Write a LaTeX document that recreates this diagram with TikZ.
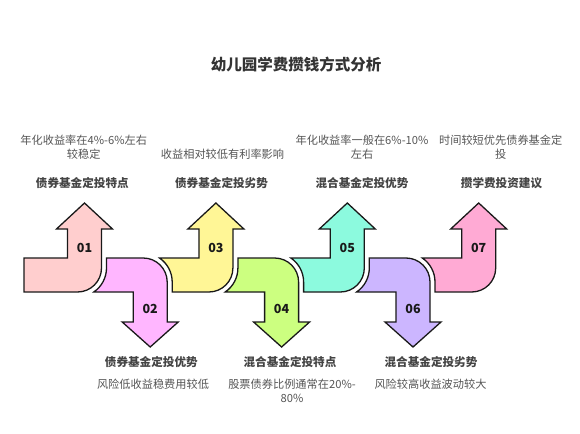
\documentclass[tikz,border=0pt]{standalone}
\usepackage{fontspec}
\newfontfamily\cjk{Noto Sans CJK SC}
\definecolor{cA}{RGB}{255,206,206}
\definecolor{cB}{RGB}{255,182,255}
\definecolor{cC}{RGB}{255,246,150}
\definecolor{cD}{RGB}{204,255,128}
\definecolor{cE}{RGB}{140,250,222}
\definecolor{cF}{RGB}{204,182,255}
\definecolor{cG}{RGB}{255,170,212}
\definecolor{titlegray}{RGB}{51,51,51}
\definecolor{headgray}{RGB}{68,68,68}
\definecolor{descgray}{RGB}{85,85,85}
\tikzset{
  arrowline/.style={draw=black!90, line width=1.3pt, line join=miter},
  numlabel/.style={font=\cjk\bfseries\fontsize{12.5}{14}\selectfont, text=black!90, inner sep=0pt},
  headtext/.style={font=\cjk\bfseries\fontsize{11.6}{14}\selectfont, text=headgray, inner sep=0pt},
  desctop/.style={font=\cjk\fontsize{11.2}{14}\selectfont, text=descgray, inner sep=0pt, align=center, anchor=south},
  descbot/.style={font=\cjk\fontsize{11.2}{14}\selectfont, text=descgray, inner sep=0pt, align=center, anchor=north},
}
\newcommand{\UpShape}[2]{%
  \filldraw[arrowline, fill=#2] (#1,203) -- (#1+28,229) -- (#1+17,229) -- (#1+17,268)
    arc[start angle=0,end angle=90,radius=24] -- (#1-43.7,292) -- (#1-43.7,282)
    arc[start angle=0,end angle=-55.86,radius=29] -- (#1-17,258) -- (#1-17,229) -- (#1-28,229) -- cycle;}
\newcommand{\DownShape}[2]{%
  \filldraw[arrowline, fill=#2] (#1,347) -- (#1-28,322) -- (#1-17,322) -- (#1-17,292) -- (#1-56.42,292)
    arc[start angle=55.86,end angle=0,radius=29] -- (#1-43.7,258) -- (#1-7,258)
    arc[start angle=-90,end angle=0,radius=24] -- (#1+17,322) -- (#1+28,322) -- cycle;}
\begin{document}
\begin{tikzpicture}[x=1pt,y=-1pt]
\useasboundingbox (0,0) rectangle (580,433);
% arrows
\filldraw[arrowline, fill=cA] (84.5,203) -- (112.5,229) -- (101.5,229) -- (101.5,268)
    arc[start angle=0,end angle=90,radius=24] -- (24,292) -- (24,258) -- (67.5,258) -- (67.5,229) -- (56.5,229) -- cycle;
\DownShape{150.2}{cB}
\UpShape{215.9}{cC}
\DownShape{281.6}{cD}
\UpShape{347.3}{cE}
\DownShape{413.0}{cF}
\UpShape{478.7}{cG}
% numbers
\node[numlabel] (n1) at (84.5,248) {01};
\node[numlabel] (n2) at (150.2,309) {02};
\node[numlabel] (n3) at (215.9,248) {03};
\node[numlabel] (n4) at (281.6,309) {04};
\node[numlabel] (n5) at (347.3,248) {05};
\node[numlabel] (n6) at (413.0,309) {06};
\node[numlabel] (n7) at (478.7,248) {07};
% title
\node[font=\cjk\bfseries\fontsize{15.5}{18}\selectfont, text=titlegray, inner sep=0pt] (title) at (296,65) {幼儿园学费攒钱方式分析};
% top headings
\node[headtext] (h1) at (82.3,183) {债券基金定投特点};
\node[headtext] (h3) at (221.5,183) {债券基金定投劣势};
\node[headtext] (h5) at (362,183) {混合基金定投优势};
\node[headtext] (h7) at (501.5,183) {攒学费投资建议};
% top descriptions
\node[desctop] (d1) at (83.7,159.5) {年化收益率在4\%-6\%左右\\较稳定};
\node[desctop] (d3) at (222.5,159.5) {收益相对较低有利率影响};
\node[desctop] (d5) at (362,159.5) {年化收益率一般在6\%-10\%\\左右};
\node[desctop] (d7) at (500.7,159.5) {时间较短优先债券基金定\\投};
% bottom headings
\node[headtext] (h2) at (151.3,362) {债券基金定投优势};
\node[headtext] (h4) at (290,362) {混合基金定投特点};
\node[headtext] (h6) at (431,362) {混合基金定投劣势};
% bottom descriptions
\node[descbot] (d2) at (153,378.5) {风险低收益稳费用较低};
\node[descbot] (d4) at (292,378.5) {股票债券比例通常在20\%-\\80\%};
\node[descbot] (d6) at (430.5,378.5) {风险较高收益波动较大};
\end{tikzpicture}
\end{document}
